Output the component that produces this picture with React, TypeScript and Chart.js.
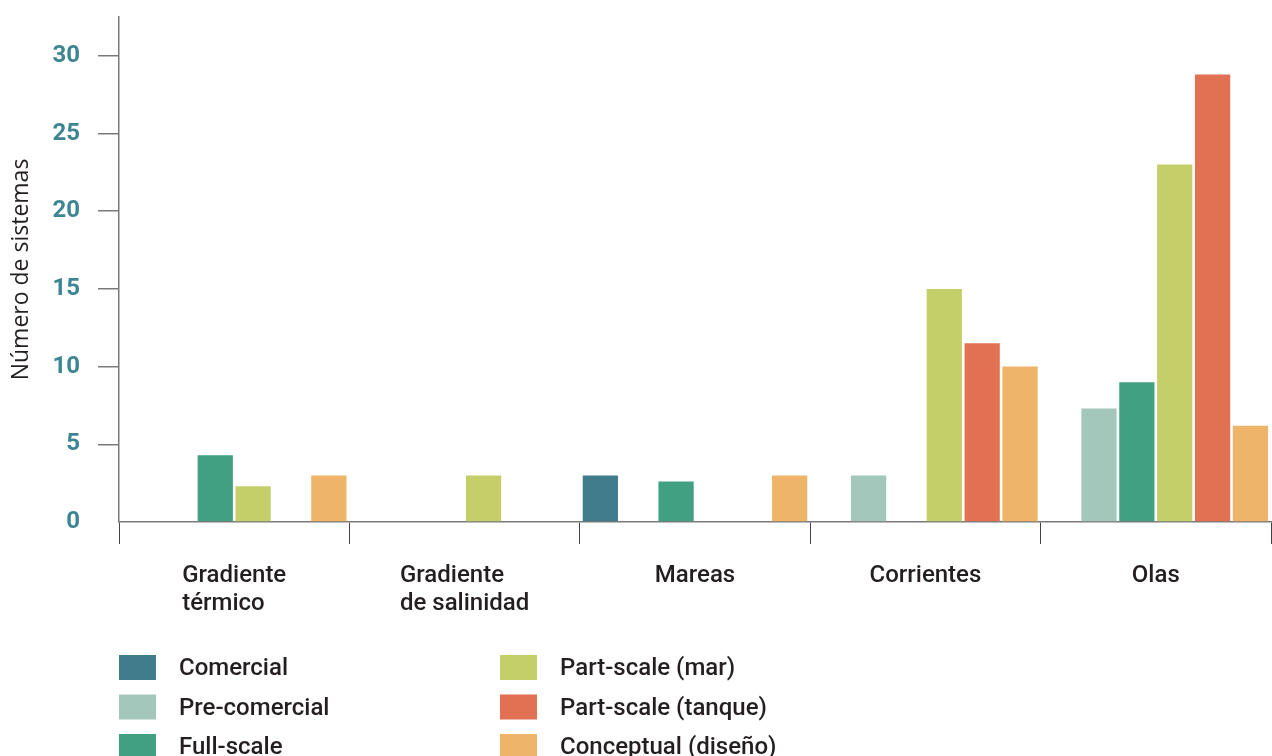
import React, { useEffect, useRef } from "react";
import { Chart, registerables } from "chart.js";

Chart.register(...registerables);

const categories: string[][] = [
  ["Gradiente", "térmico"],
  ["Gradiente", "de salinidad"],
  ["Mareas"],
  ["Corrientes"],
  ["Olas"],
];
const seriesNames = [
  "Comercial",
  "Pre-comercial",
  "Full-scale",
  "Part-scale (mar)",
  "Part-scale (tanque)",
  "Conceptual (diseño)",
];
const comercial = [null, null, 3, null, null];
const preComercial = [null, null, null, 3, 7.3];
const fullScale = [4.3, null, 2.6, null, 9];
const partScaleMar = [2.3, 3, null, 15, 23];
const partScaleTanque = [null, null, null, 11.5, 28.8];
const conceptual = [3, null, 3, 10, 6.2];
const seriesValues = [comercial, preComercial, fullScale, partScaleMar, partScaleTanque, conceptual];
const seriesColors = ["#3f7d8c", "#a3c8bb", "#41a082", "#c5cf6a", "#e27052", "#eeb469"];
const yTicks = [0, 5, 10, 15, 20, 25, 30];
const yMax = 32.5;

const TEXT = "#231f20";
const TEAL = "#3e8593";

const labelPlugin = {
  id: "customLabels",
  afterDraw(chart: any) {
    const { ctx } = chart;
    const xs = chart.scales.x;
    ctx.save();
    ctx.font = "500 24px Roboto";
    ctx.fillStyle = TEXT;
    ctx.textBaseline = "alphabetic";
    ctx.textAlign = "left";
    categories.forEach((lines, i) => {
      const cx = xs.getPixelForValue(i);
      const w = Math.max(...lines.map((l) => ctx.measureText(l).width));
      lines.forEach((l, j) => ctx.fillText(l, cx - w / 2, xs.top + 60 + j * 28));
    });
    // legend
    const colX = [119, 500];
    const rowY = [655, 694.5, 734];
    chart.data.datasets.forEach((ds: any, i: number) => {
      const x = colX[Math.floor(i / 3)];
      const y = rowY[i % 3];
      ctx.fillStyle = ds.backgroundColor;
      ctx.fillRect(x, y, 37, 25);
      ctx.fillStyle = TEXT;
      ctx.fillText(ds.label, x + 60, y + 20);
    });
    ctx.restore();
  },
};

export default function App() {
  const ref = useRef<HTMLCanvasElement>(null);
  useEffect(() => {
    if (!ref.current) return;
    const chart = new Chart(ref.current, {
      type: "bar",
      data: {
        labels: categories.map((c) => c.join(" ")),
        datasets: seriesNames.map((name, i) => ({
          label: name,
          data: seriesValues[i],
          backgroundColor: seriesColors[i],
          borderWidth: 0,
          categoryPercentage: 0.986,
          barPercentage: 0.931,
        })),
      },
      options: {
        responsive: false,
        animation: false,
        layout: { padding: { top: 17, right: 1, left: 0, bottom: 0 } },
        plugins: { legend: { display: false }, tooltip: { enabled: false } },
        scales: {
          x: {
            type: "category",
            offset: true,
            grid: {
              offset: true,
              drawOnChartArea: false,
              drawTicks: true,
              tickLength: 22,
              color: "#444",
              lineWidth: 1,
            },
            border: { color: "#7a7a7a", width: 1.5 },
            ticks: { display: false },
            afterFit: (s: any) => {
              s.height = 234;
              s.paddingLeft = 0;
              s.paddingRight = 0;
            },
          },
          y: {
            min: 0,
            max: yMax,
            afterBuildTicks: (s: any) => {
              s.ticks = yTicks.map((v) => ({ value: v }));
            },
            ticks: {
              color: TEAL,
              font: { family: "Roboto", weight: "bold", size: 24 },
              padding: 18,
            },
            grid: {
              drawOnChartArea: false,
              tickLength: 21,
              lineWidth: 1.5,
              color: (ctx: any) => (ctx.tick && ctx.tick.value === 0 ? "rgba(0,0,0,0)" : "#7a7a7a"),
            },
            border: { color: "#7a7a7a", width: 1.5 },
            title: {
              display: true,
              text: "Número de sistemas",
              color: TEXT,
              font: { family: "Open Sans", size: 23, weight: "normal" },
              padding: { top: 8, bottom: 0 },
            },
            afterFit: (s: any) => {
              s.width = 119;
              s.paddingTop = 0;
              s.paddingBottom = 0;
            },
          },
        },
      },
      plugins: [labelPlugin],
    });
    return () => chart.destroy();
  }, []);
  return (
    <div style={{ position: "absolute", left: 0, top: 0, width: 1272, height: 756, overflow: "hidden", background: "#fff" }}>
      <canvas ref={ref} width={1272} height={756} style={{ display: "block" }} />
    </div>
  );
}
